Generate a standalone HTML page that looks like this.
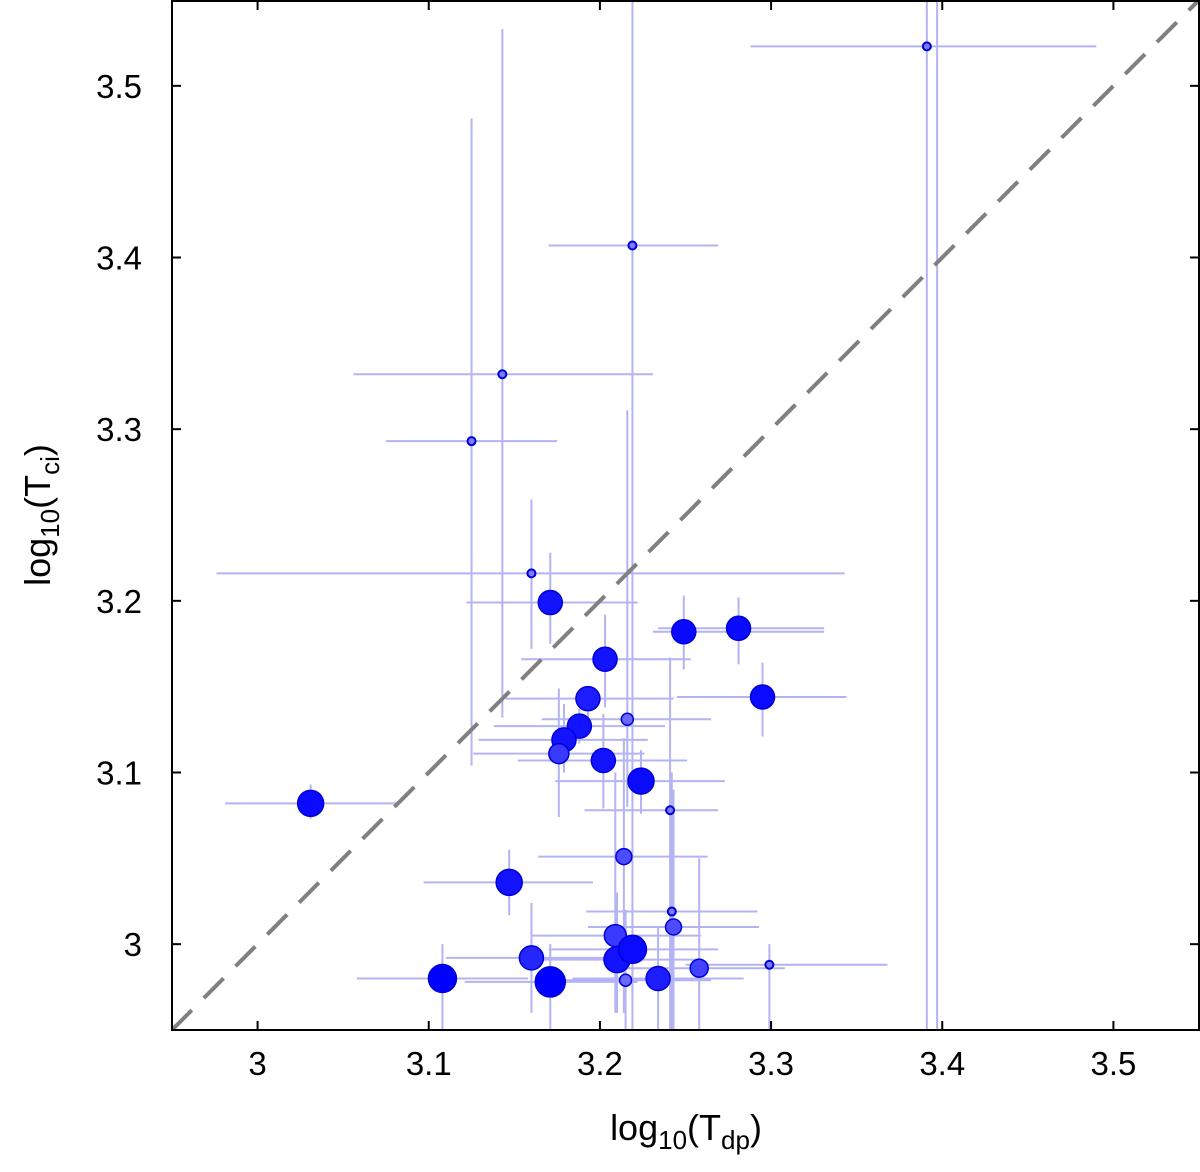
<!DOCTYPE html>
<html><head><meta charset="utf-8"><style>
html,body{margin:0;padding:0;background:#fff;}
svg{display:block;font-family:"Liberation Sans",Arial,sans-serif;}
</style></head><body>
<svg id="chart" width="1200" height="1172" viewBox="0 0 1200 1172" xmlns="http://www.w3.org/2000/svg">
<defs><clipPath id="clip"><rect x="172" y="0" width="1027" height="1030"/></clipPath></defs>
<g id="errs" clip-path="url(#clip)"></g>
<line id="diag" stroke="#808080" stroke-width="4" stroke-dasharray="28,17" clip-path="url(#clip)"/>
<g id="pts" clip-path="url(#clip)"></g>
<g id="axes"></g>
<text x="686" y="1140" font-size="36" text-anchor="middle">log<tspan font-size="26" dy="9">10</tspan><tspan dy="-9">(T</tspan><tspan font-size="26" dy="9">dp</tspan><tspan dy="-9">)</tspan></text>
<text transform="translate(50,515) rotate(-90)" font-size="36" text-anchor="middle">log<tspan font-size="26" dy="9">10</tspan><tspan dy="-9">(T</tspan><tspan font-size="26" dy="9">ci</tspan><tspan dy="-9">)</tspan></text>
</svg>
<script>
const xTicks = [3, 3.1, 3.2, 3.3, 3.4, 3.5];
const yTicks = [3, 3.1, 3.2, 3.3, 3.4, 3.5];
const xTickLabels = ["3", "3.1", "3.2", "3.3", "3.4", "3.5"];
const yTickLabels = ["3", "3.1", "3.2", "3.3", "3.4", "3.5"];
const xVals = [3.391,3.219,3.143,3.125,3.160,3.171,3.249,3.281,3.203,3.295,3.193,3.188,3.216,3.179,3.176,3.202,3.224,3.031,3.241,3.214,3.147,3.242,3.243,3.209,3.160,3.210,3.219,3.108,3.171,3.215,3.234,3.258,3.299];
const yVals = [3.523,3.407,3.332,3.293,3.216,3.199,3.182,3.184,3.166,3.144,3.143,3.127,3.131,3.119,3.111,3.107,3.095,3.082,3.078,3.051,3.036,3.019,3.010,3.005,2.992,2.991,2.997,2.980,2.978,2.979,2.980,2.986,2.988];
const xLow = [3.288,3.170,3.056,3.075,2.976,3.122,3.231,3.234,3.154,3.245,3.145,3.138,3.166,3.129,3.126,3.152,3.174,2.981,3.191,3.164,3.097,3.192,3.193,3.160,3.110,3.160,3.170,3.058,3.121,3.166,3.184,3.208,3.250];
const xHigh = [3.490,3.269,3.231,3.175,3.343,3.222,3.331,3.331,3.253,3.344,3.243,3.238,3.265,3.228,3.226,3.251,3.273,3.081,3.269,3.263,3.196,3.292,3.293,3.259,3.209,3.260,3.269,3.158,3.222,3.265,3.284,3.308,3.368];
const yLow = [2.90,2.90,3.132,3.104,3.172,3.175,3.160,3.163,3.138,3.121,3.124,3.117,3.08,3.10,3.074,3.079,3.076,3.073,2.90,2.96,3.017,2.95,2.95,2.96,2.960,2.96,2.97,2.95,2.94,2.94,2.95,2.95,2.90];
const yHigh = [3.60,3.60,3.533,3.481,3.259,3.228,3.203,3.202,3.192,3.164,3.150,3.137,3.311,3.14,3.149,3.134,3.113,3.093,3.167,3.12,3.055,3.10,3.09,3.10,3.024,3.03,3.02,3.00,3.00,3.02,3.01,3.05,3.00];
const markerSize = [4,4,4,4,4,12,12,12,12,12,12,12,6,12,10,12,13,13,4,8,13,4,8,11,12,13,14,14,15,6,12,9,4];
const markerOpacity = [0.35,0.35,0.35,0.35,0.35,0.9,0.95,0.95,0.9,0.95,0.85,0.9,0.45,0.9,0.7,0.9,0.95,0.95,0.35,0.6,0.9,0.35,0.6,0.7,0.8,0.9,0.95,1,1,0.45,0.85,0.65,0.35];
const extraVLineX = [3.397];

const NS = "http://www.w3.org/2000/svg";
const L = 172, R = 1199, T = 0, B = 1030, lo = 2.95, hi = 3.55;
const X = v => L + (v - lo) / (hi - lo) * (R - L);
const Y = v => B - (v - lo) / (hi - lo) * (B - T);
function mk(tag, attrs, parent) {
  const e = document.createElementNS(NS, tag);
  for (const k in attrs) e.setAttribute(k, attrs[k]);
  parent.appendChild(e);
  return e;
}
const errs = document.getElementById('errs'), pts = document.getElementById('pts'), axes = document.getElementById('axes');
const diag = document.getElementById('diag');
diag.setAttribute('x1', X(lo)); diag.setAttribute('y1', Y(lo));
diag.setAttribute('x2', X(hi)); diag.setAttribute('y2', Y(hi));

for (let i = 0; i < xVals.length; i++) {
  const h = mk('line', {x1: X(xLow[i]), x2: X(xHigh[i]), y1: Y(yVals[i]), y2: Y(yVals[i]), stroke: '#b4b4f4', 'stroke-width': 2}, errs);
  
  
  const v = mk('line', {x1: X(xVals[i]), x2: X(xVals[i]), y1: Y(yLow[i]), y2: Y(yHigh[i]), stroke: '#b4b4f4', 'stroke-width': 2}, errs);
  
  
}
extraVLineX.forEach(xv => {
  const v = mk('line', {x1: X(xv), x2: X(xv), y1: Y(2.9), y2: Y(3.6), stroke: '#b4b4f4', 'stroke-width': 2}, errs);
  
  
});
for (let i = 0; i < xVals.length; i++) {
  const op = markerOpacity[i];
  const c = Math.round(255 * (1 - op) * 0.75);
  const sm = markerSize[i] <= 4;
  const p = mk('circle', {cx: X(xVals[i]), cy: Y(yVals[i]), r: markerSize[i], fill: 'rgb(' + c + ',' + c + ',255)', stroke: '#0000d8', 'stroke-width': sm ? 2 : 1.5}, pts);
  
  
}
const fr = mk('rect', {x: L, y: 1, width: R - L, height: B - 1, fill: 'none', stroke: '#000', 'stroke-width': 2}, axes);


xTicks.forEach((t, i) => {
  const x = X(t);
  const a = mk('line', {x1: x, x2: x, y1: B, y2: B - 9, stroke: '#000', 'stroke-width': 2}, axes);
  
  
  const b = mk('line', {x1: x, x2: x, y1: 1, y2: 10, stroke: '#000', 'stroke-width': 2}, axes);
  
  
  const tx = mk('text', {x: x, y: 1075, 'font-size': 33, 'text-anchor': 'middle'}, axes);
  tx.textContent = xTickLabels[i];
  
  
});
yTicks.forEach((t, i) => {
  const y = Y(t);
  const a = mk('line', {x1: L, x2: L + 9, y1: y, y2: y, stroke: '#000', 'stroke-width': 2}, axes);
  
  
  const b = mk('line', {x1: R, x2: R - 9, y1: y, y2: y, stroke: '#000', 'stroke-width': 2}, axes);
  
  
  const tx = mk('text', {x: 142, y: y + 12, 'font-size': 33, 'text-anchor': 'end'}, axes);
  tx.textContent = yTickLabels[i];
  
  
});
</script>
</body></html>
